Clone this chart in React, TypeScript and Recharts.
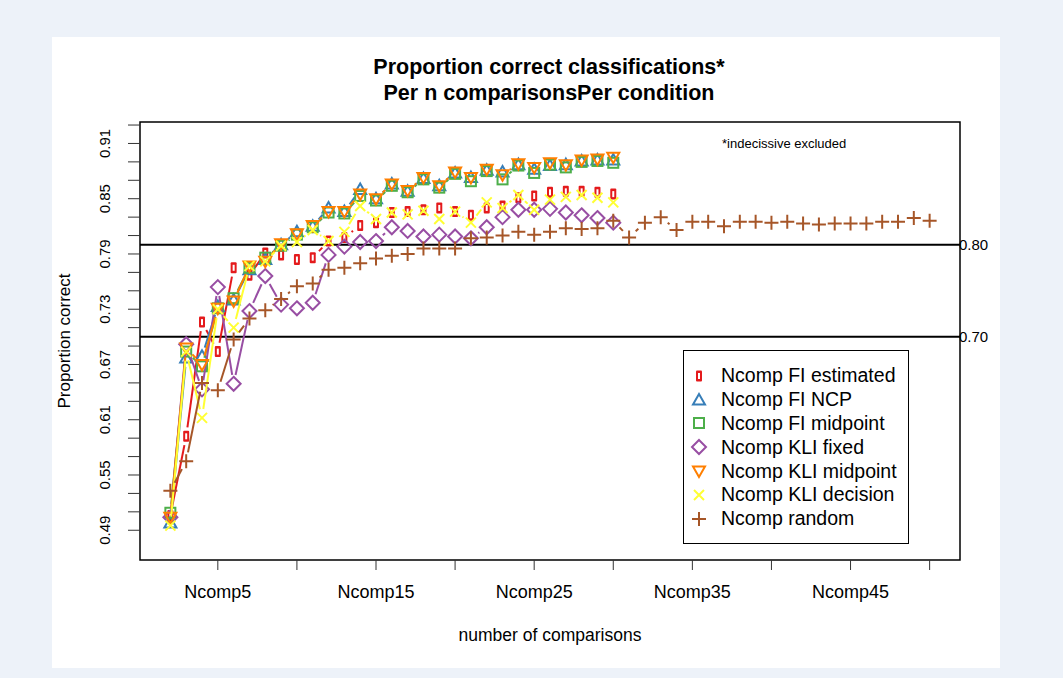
import React from 'react'
import { ComposedChart, Line, XAxis, YAxis, ReferenceLine, ReferenceArea, Legend } from 'recharts'

const comparisons = [
  2, 3, 4, 5, 6, 7, 8, 9, 10, 11, 12, 13, 14, 15, 16, 17, 18, 19, 20, 21, 22, 23, 24, 25, 26,
  27, 28, 29, 30, 31, 32, 33, 34, 35, 36, 37, 38, 39, 40, 41, 42, 43, 44, 45, 46, 47, 48, 49, 50,
]

// Ncomp2 .. Ncomp30
const fiEstimated = [0.506, 0.592, 0.716, 0.684, 0.775, 0.767, 0.791, 0.789, 0.784, 0.786, 0.804, 0.808, 0.821, 0.824, 0.835, 0.836, 0.838, 0.84, 0.836, 0.832, 0.84, 0.842, 0.851, 0.853, 0.857, 0.858, 0.858, 0.857, 0.855]
const fiNcp = [0.498, 0.677, 0.679, 0.733, 0.74, 0.773, 0.784, 0.8, 0.814, 0.82, 0.84, 0.836, 0.86, 0.85, 0.866, 0.858, 0.872, 0.864, 0.878, 0.873, 0.881, 0.879, 0.887, 0.882, 0.886, 0.887, 0.891, 0.892, 0.892]
const fiMidpoint = [0.509, 0.684, 0.668, 0.731, 0.742, 0.775, 0.786, 0.799, 0.811, 0.819, 0.835, 0.834, 0.853, 0.848, 0.864, 0.857, 0.871, 0.862, 0.877, 0.869, 0.88, 0.871, 0.886, 0.878, 0.887, 0.884, 0.89, 0.891, 0.889]
const kliFixed = [0.504, 0.692, 0.643, 0.754, 0.649, 0.728, 0.766, 0.735, 0.731, 0.737, 0.789, 0.798, 0.803, 0.804, 0.819, 0.815, 0.809, 0.811, 0.809, 0.807, 0.819, 0.83, 0.838, 0.838, 0.839, 0.835, 0.832, 0.829, 0.824]
const kliMidpoint = [0.504, 0.688, 0.67, 0.731, 0.739, 0.777, 0.782, 0.801, 0.812, 0.821, 0.836, 0.836, 0.855, 0.85, 0.866, 0.859, 0.873, 0.864, 0.879, 0.873, 0.882, 0.876, 0.888, 0.884, 0.889, 0.887, 0.892, 0.893, 0.895]
const kliDecision = [0.495, 0.684, 0.612, 0.73, 0.71, 0.777, 0.782, 0.799, 0.803, 0.816, 0.804, 0.814, 0.842, 0.828, 0.835, 0.833, 0.837, 0.828, 0.836, 0.824, 0.846, 0.84, 0.854, 0.838, 0.849, 0.852, 0.854, 0.851, 0.846]
// Ncomp2 .. Ncomp50
const random = [0.533, 0.565, 0.65, 0.642, 0.697, 0.72, 0.729, 0.741, 0.755, 0.758, 0.773, 0.775, 0.78, 0.785, 0.788, 0.79, 0.796, 0.796, 0.796, 0.807, 0.808, 0.81, 0.814, 0.811, 0.814, 0.818, 0.817, 0.818, 0.826, 0.808, 0.824, 0.83, 0.816, 0.825, 0.825, 0.82, 0.825, 0.825, 0.824, 0.825, 0.823, 0.822, 0.823, 0.823, 0.823, 0.825, 0.825, 0.829, 0.826]

const seriesNames = [
  'Ncomp FI estimated',
  'Ncomp FI NCP',
  'Ncomp FI midpoint',
  'Ncomp KLI fixed',
  'Ncomp KLI midpoint',
  'Ncomp KLI decision',
  'Ncomp random',
]

const xTicks = [5, 10, 15, 20, 25, 30, 35, 40, 45, 50]
const xTickLabels = ['Ncomp5', '', 'Ncomp15', '', 'Ncomp25', '', 'Ncomp35', '', 'Ncomp45', '']
const yTicks = [0.49, 0.51, 0.53, 0.55, 0.57, 0.59, 0.61, 0.63, 0.65, 0.67, 0.69, 0.71, 0.73, 0.75, 0.77, 0.79, 0.81, 0.83, 0.85, 0.87, 0.89, 0.91, 0.93]
const yTickLabels = ['0.49', '', '', '0.55', '', '', '0.61', '', '', '0.67', '', '', '0.73', '', '', '0.79', '', '', '0.85', '', '', '0.91', '']
const cutoffs = [0.8, 0.7]
const cutoffLabels = ['0.80', '0.70']

const X_DOMAIN: [number, number] = [0.08, 51.92]
const Y_DOMAIN: [number, number] = [0.4577, 0.9333]
const GAP = 9
const FONT = '"Liberation Sans", Arial, Helvetica, sans-serif'

type Shape = 'bar' | 'tri' | 'square' | 'diamond' | 'dtri' | 'cross' | 'plus'

const series: { key: string; name: string; values: number[]; color: string; shape: Shape }[] = [
  { key: 'fiEstimated', name: seriesNames[0], values: fiEstimated, color: '#e41a1c', shape: 'bar' },
  { key: 'fiNcp', name: seriesNames[1], values: fiNcp, color: '#377eb8', shape: 'tri' },
  { key: 'fiMidpoint', name: seriesNames[2], values: fiMidpoint, color: '#4daf4a', shape: 'square' },
  { key: 'kliFixed', name: seriesNames[3], values: kliFixed, color: '#984ea3', shape: 'diamond' },
  { key: 'kliMidpoint', name: seriesNames[4], values: kliMidpoint, color: '#ff7f00', shape: 'dtri' },
  { key: 'kliDecision', name: seriesNames[5], values: kliDecision, color: '#ffff33', shape: 'cross' },
  { key: 'random', name: seriesNames[6], values: random, color: '#a65628', shape: 'plus' },
]

const data = comparisons.map((n, i) => {
  const row: Record<string, number | undefined> = { n }
  series.forEach((s) => {
    row[s.key] = s.values[i]
  })
  return row
})

function Marker({ shape, x, y, color }: { shape: Shape; x: number; y: number; color: string }) {
  const sw = 2
  switch (shape) {
    case 'bar':
      return (
        <g>
          <rect x={x - 3} y={y - 5.5} width={6} height={11} rx={1} fill={color} />
          <rect x={x - 1} y={y - 3} width={2} height={6} fill="#fff" />
        </g>
      )
    case 'tri':
      return <polygon points={`${x},${y - 6} ${x - 6},${y + 4.5} ${x + 6},${y + 4.5}`} fill="none" stroke={color} strokeWidth={sw} />
    case 'square':
      return <rect x={x - 5} y={y - 5} width={10} height={10} fill="none" stroke={color} strokeWidth={sw} />
    case 'diamond':
      return <polygon points={`${x},${y - 7} ${x + 7},${y} ${x},${y + 7} ${x - 7},${y}`} fill="none" stroke={color} strokeWidth={sw} />
    case 'dtri':
      return <polygon points={`${x - 6},${y - 4.5} ${x + 6},${y - 4.5} ${x},${y + 6}`} fill="none" stroke={color} strokeWidth={sw} />
    case 'cross':
      return <path d={`M${x - 5},${y - 5}L${x + 5},${y + 5}M${x - 5},${y + 5}L${x + 5},${y - 5}`} stroke={color} strokeWidth={sw} />
    default:
      return <path d={`M${x - 7},${y}L${x + 7},${y}M${x},${y - 7}L${x},${y + 7}`} stroke={color} strokeWidth={sw} />
  }
}

// R type="b": points joined by segments that stop short of each symbol
function makeDot(shape: Shape, color: string) {
  return (props: any) => {
    const { cx, cy, index, points, value } = props
    if (cx == null || cy == null || value == null || Number.isNaN(cy)) return <g key={`e-${index}`} />
    let seg = null
    const next = points ? points[index + 1] : null
    if (next && next.y != null && next.value != null) {
      const dx = next.x - cx
      const dy = next.y - cy
      const len = Math.hypot(dx, dy)
      if (len > 2 * GAP + 1) {
        const ux = dx / len
        const uy = dy / len
        seg = (
          <line
            x1={cx + ux * GAP}
            y1={cy + uy * GAP}
            x2={next.x - ux * GAP}
            y2={next.y - uy * GAP}
            stroke={color}
            strokeWidth={2}
          />
        )
      }
    }
    return (
      <g key={`d-${index}`}>
        {seg}
        <Marker shape={shape} x={cx} y={cy} color={color} />
      </g>
    )
  }
}

const YTick = (props: any) => {
  const { x, y, index } = props
  const label = yTickLabels[index]
  if (!label) return <g />
  const cx = x - 21
  return (
    <text
      x={cx}
      y={y}
      transform={`rotate(-90, ${cx}, ${y})`}
      textAnchor="middle"
      dominantBaseline="central"
      fontSize={15}
      fontFamily={FONT}
      fill="#000"
    >
      {label}
    </text>
  )
}

const LegendBox = () => (
  <div
    style={{
      boxSizing: 'border-box',
      width: 226,
      height: 194,
      border: '1.5px solid #000',
      background: '#fff',
      padding: '13px 0 0 0',
      fontFamily: FONT,
    }}
  >
    {series.map((s) => (
      <div key={s.key} style={{ display: 'flex', alignItems: 'center', height: 23.8 }}>
        <svg width={30} height={20} style={{ marginLeft: 2 }}>
          <Marker shape={s.shape} x={13} y={10} color={s.color} />
        </svg>
        <span style={{ fontSize: 19.5, color: '#000', marginLeft: 5, whiteSpace: 'nowrap' }}>{s.name}</span>
      </div>
    ))}
  </div>
)

export default function App() {
  return (
    <div style={{ position: 'fixed', left: 0, top: 0, width: 1063, height: 678, background: '#edf2f9', fontFamily: FONT }}>
      <div style={{ position: 'absolute', left: 52, top: 37, width: 948, height: 631, background: '#fff' }} />

      <div style={{ position: 'absolute', left: 0, top: 0 }}>
        <ComposedChart width={1063} height={678} data={data} margin={{ top: 122, right: 103, bottom: 78, left: 100 }}>
          <XAxis
            dataKey="n"
            type="number"
            domain={X_DOMAIN}
            ticks={xTicks}
            tickFormatter={(v: number) => xTickLabels[xTicks.indexOf(v)] ?? ''}
            interval={0}
            height={40}
            axisLine={false}
            tickLine={{ stroke: '#333' }}
            tickSize={10}
            tickMargin={15}
            tick={{ fontSize: 18, fill: '#000', fontFamily: FONT }}
            allowDataOverflow
          />
          <YAxis
            type="number"
            domain={Y_DOMAIN}
            ticks={yTicks}
            interval={0}
            width={40}
            axisLine={false}
            tickLine={{ stroke: '#333' }}
            tickSize={12}
            tick={<YTick />}
            allowDataOverflow
          />
          <ReferenceArea
            x1={X_DOMAIN[0]}
            x2={X_DOMAIN[1]}
            y1={Y_DOMAIN[0]}
            y2={Y_DOMAIN[1]}
            fill="none"
            fillOpacity={0}
            stroke="#000"
            strokeWidth={1.5}
            ifOverflow="visible"
          />
          {cutoffs.map((c, i) => (
            <ReferenceLine
              key={c}
              y={c}
              stroke="#000"
              strokeWidth={2}
              label={{ value: cutoffLabels[i], position: 'right', offset: -1, fontSize: 15, fill: '#000', fontFamily: FONT }}
            />
          ))}
          {series.map((s) => (
            <Line
              key={s.key}
              dataKey={s.key}
              name={s.name}
              type="linear"
              stroke="none"
              dot={makeDot(s.shape, s.color)}
              activeDot={false}
              isAnimationActive={false}
            />
          ))}
          <Legend
            layout="vertical"
            align="center"
            verticalAlign="middle"
            wrapperStyle={{ left: 683, top: 350, width: 226, height: 194 }}
            content={() => <LegendBox />}
          />
        </ComposedChart>
      </div>

      <div
        style={{
          position: 'absolute',
          left: 349,
          top: 54,
          width: 400,
          textAlign: 'center',
          fontSize: 21.5,
          fontWeight: 'bold',
          lineHeight: '26px',
          color: '#000',
        }}
      >
        <div>Proportion correct classifications*</div>
        <div>Per n comparisonsPer condition</div>
      </div>
      <div style={{ position: 'absolute', left: 722, top: 136, fontSize: 13, lineHeight: '16px', color: '#000' }}>
        *indecissive excluded
      </div>
      <div
        style={{
          position: 'absolute',
          left: 350,
          top: 625,
          width: 400,
          textAlign: 'center',
          fontSize: 17.5,
          lineHeight: '20px',
          color: '#000',
        }}
      >
        number of comparisons
      </div>
      <div
        style={{
          position: 'absolute',
          left: 65 - 100,
          top: 341 - 10,
          width: 200,
          height: 20,
          textAlign: 'center',
          fontSize: 17,
          lineHeight: '20px',
          color: '#000',
          transform: 'rotate(-90deg)',
        }}
      >
        Proportion correct
      </div>
    </div>
  )
}
